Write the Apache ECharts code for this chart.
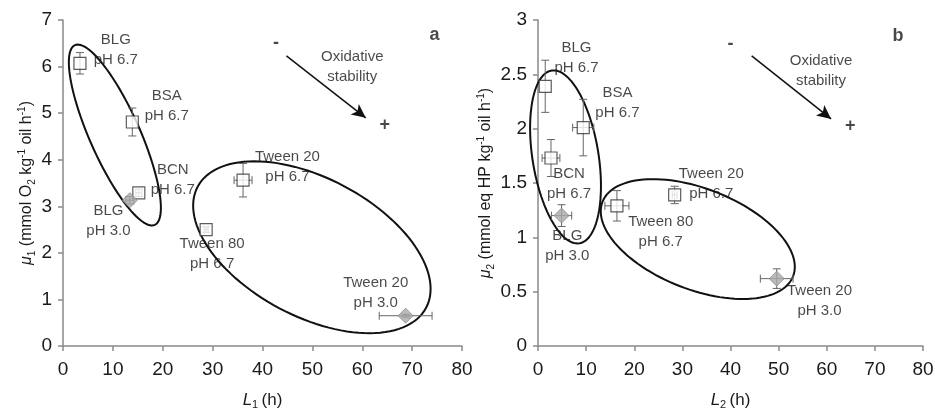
<!DOCTYPE html>
<html>
<head>
<meta charset="utf-8" />
<title>oxidative stability</title>
<style>
  html, body { margin: 0; padding: 0; background: #ffffff; }
  #chart { width: 935px; height: 411px; }
</style>
</head>
<body>
<div id="chart"></div>
<script src="https://cdn.jsdelivr.net/npm/echarts@6/dist/echarts.min.js"></script>
<script>
var names = ['BLG pH 6.7', 'BSA pH 6.7', 'BCN pH 6.7', 'Tween 20 pH 6.7', 'Tween 80 pH 6.7', 'BLG pH 3.0', 'Tween 20 pH 3.0'];
var isAcid = [false, false, false, false, false, true, true];

// panel a : L1 (h) vs mu1
var L1 = [3.4, 13.9, 15.2, 36.1, 28.7, 13.4, 68.7];
var mu1 = [6.07, 4.81, 3.29, 3.56, 2.50, 3.13, 0.65];
var L1Err = [0, 0, 0.6, 1.8, 0.4, 0.8, 5.3];
var mu1Err = [0.23, 0.30, 0.08, 0.36, 0.06, 0.08, 0.03];

// panel b : L2 (h) vs mu2
var L2 = [1.5, 9.4, 2.7, 28.4, 16.4, 4.9, 49.6];
var mu2 = [2.39, 2.01, 1.73, 1.39, 1.29, 1.20, 0.62];
var L2Err = [0, 2.2, 1.85, 0.5, 2.5, 2.1, 3.4];
var mu2Err = [0.24, 0.26, 0.17, 0.08, 0.14, 0.10, 0.09];

// ellipses: centre, end of long half axis, end of short half axis (data units)
var ellipsesA = [[10.4, 4.53, 2.4, 6.46, 15.0, 4.75], [49.9, 2.12, 72.8, 0.82, 56.4, 3.43]];
var ellipsesB = [[5.72, 1.74, 8.59, 0.945, 12.5, 1.787], [33.2, 0.984, 53.0, 0.641, 37.0, 1.416]];

// text labels [x, y, text]
var labelsA = [
  [10.6, 6.35, 'BLG\npH 6.7'], [20.8, 5.15, 'BSA\npH 6.7'], [22.0, 3.57, 'BCN\npH 6.7'],
  [9.1, 2.69, 'BLG\npH 3.0'], [45.0, 3.85, 'Tween 20\npH 6.7'], [29.9, 1.97, 'Tween 80\npH 6.7'],
  [62.7, 1.14, 'Tween 20\npH 3.0'], [58.0, 6.0, 'Oxidative\nstability']
];
var labelsB = [
  [8.0, 2.655, 'BLG\npH 6.7'], [16.5, 2.235, 'BSA\npH 6.7'], [6.45, 1.495, 'BCN\npH 6.7'],
  [6.1, 0.925, 'BLG\npH 3.0'], [36.0, 1.495, 'Tween 20\npH 6.7'], [25.5, 1.05, 'Tween 80\npH 6.7'],
  [58.5, 0.42, 'Tween 20\npH 3.0'], [58.8, 2.535, 'Oxidative\nstability']
];
var signsA = [[42.7, 6.5, '-'], [64.5, 4.74, '+'], [74.5, 6.67, 'a']];
var signsB = [[40.0, 2.78, '-'], [64.9, 2.02, '+'], [74.8, 2.85, 'b']];
var arrowA = [[44.8, 6.23], [60.7, 4.9]];
var arrowB = [[44.4, 2.67], [60.9, 2.09]];

var xTicks = { min: 0, max: 80, interval: 10 };
var yTicksA = { min: 0, max: 7, interval: 1 };
var yTicksB = { min: 0, max: 3, interval: 0.5 };

var _font = 'Liberation Sans, Arial, sans-serif';
var _txt = '#1a1a1a';
var _axis = '#8a8a8a';

function renderEllipse(params, api) {
  var c = api.coord([api.value(0), api.value(1)]);
  var p = api.coord([api.value(2), api.value(3)]);
  var q = api.coord([api.value(4), api.value(5)]);
  var ux = p[0] - c[0], uy = p[1] - c[1];
  var vx = q[0] - c[0], vy = q[1] - c[1];
  var pts = [];
  for (var k = 0; k < 120; k++) {
    var t = k / 120 * Math.PI * 2;
    pts.push([c[0] + ux * Math.cos(t) + vx * Math.sin(t), c[1] + uy * Math.cos(t) + vy * Math.sin(t)]);
  }
  return {
    type: 'polygon',
    shape: { points: pts },
    style: { fill: 'none', stroke: '#111111', lineWidth: 2 }
  };
}

function renderErr(params, api) {
  var x = api.value(0), y = api.value(1), ex = api.value(2), ey = api.value(3);
  var cap = 4;
  var st = { stroke: '#666666', lineWidth: 1 };
  var ch = [];
  function seg(x1, y1, x2, y2) {
    ch.push({ type: 'line', shape: { x1: x1, y1: y1, x2: x2, y2: y2 }, style: st });
  }
  if (ey > 0) {
    var a = api.coord([x, y + ey]), b = api.coord([x, y - ey]);
    seg(a[0], a[1], b[0], b[1]);
    seg(a[0] - cap, a[1], a[0] + cap, a[1]);
    seg(b[0] - cap, b[1], b[0] + cap, b[1]);
  }
  if (ex > 0) {
    var l = api.coord([x - ex, y]), r = api.coord([x + ex, y]);
    seg(l[0], l[1], r[0], r[1]);
    seg(l[0], l[1] - cap, l[0], l[1] + cap);
    seg(r[0], r[1] - cap, r[0], r[1] + cap);
  }
  return { type: 'group', children: ch };
}

function makeSeries(idx, xs, ys, xe, ye, ellipses, labels, signs, arrow) {
  var errData = [], ptData = [];
  for (var i = 0; i < xs.length; i++) {
    errData.push([xs[i], ys[i], xe[i], ye[i]]);
    ptData.push({
      name: names[i],
      value: [xs[i], ys[i]],
      symbol: isAcid[i] ? 'diamond' : 'rect',
      symbolSize: isAcid[i] ? 15 : 12,
      itemStyle: isAcid[i]
        ? { color: '#a9a9a9', borderColor: '#8c8c8c', borderWidth: 1 }
        : { color: '#ffffff', borderColor: '#333333', borderWidth: 1.2 }
    });
  }
  var lblData = labels.map(function (d) { return { name: d[2], value: [d[0], d[1]] }; });
  var signData = signs.map(function (d) { return { name: d[2], value: [d[0], d[1]] }; });
  return [{
    type: 'custom',
    xAxisIndex: idx, yAxisIndex: idx,
    renderItem: renderEllipse,
    encode: { x: 0, y: 1 },
    data: ellipses,
    z: 2
  }, {
    type: 'custom',
    xAxisIndex: idx, yAxisIndex: idx,
    renderItem: renderErr,
    encode: { x: 0, y: 1 },
    data: errData,
    z: 3
  }, {
    type: 'scatter',
    xAxisIndex: idx, yAxisIndex: idx,
    data: ptData,
    z: 4
  }, {
    type: 'scatter',
    xAxisIndex: idx, yAxisIndex: idx,
    symbolSize: 0,
    data: lblData,
    z: 5,
    label: {
      show: true, position: 'inside', formatter: '{b}',
      color: _txt, fontSize: 15, lineHeight: 20, fontFamily: _font, align: 'center'
    },
    markLine: {
      silent: true,
      symbol: ['none', 'arrow'],
      symbolSize: [10, 14],
      label: { show: false },
      lineStyle: { color: '#111111', width: 1.5, type: 'solid' },
      data: [[{ coord: arrow[0] }, { coord: arrow[1] }]]
    }
  }, {
    type: 'scatter',
    xAxisIndex: idx, yAxisIndex: idx,
    symbolSize: 0,
    data: signData,
    z: 5,
    label: {
      show: true, position: 'inside', formatter: '{b}',
      color: _txt, fontSize: 18, fontWeight: 'bold', fontFamily: _font
    }
  }];
}

function xAxis(idx, sub) {
  return {
    type: 'value', gridIndex: idx,
    min: xTicks.min, max: xTicks.max, interval: xTicks.interval,
    name: '{i|L}{s|' + sub + '} {n|(h)}',
    nameLocation: 'middle', nameGap: 44, nameMoveOverlap: false,
    nameTextStyle: {
      rich: {
        i: { fontSize: 17, fontStyle: 'italic', color: _txt, fontFamily: _font, lineHeight: 20 },
        s: { fontSize: 11, color: _txt, fontFamily: _font, verticalAlign: 'bottom', lineHeight: 20 },
        n: { fontSize: 17, color: _txt, fontFamily: _font, lineHeight: 20 }
      }
    },
    axisLine: { show: true, lineStyle: { color: _axis, width: 1.5 } },
    axisTick: { show: true, inside: false, length: 5, lineStyle: { color: _axis, width: 1.5 } },
    axisLabel: { color: _txt, fontSize: 19, fontFamily: _font, margin: 14 },
    splitLine: { show: false }
  };
}

function yAxis(idx, ticks, name, gap) {
  return {
    type: 'value', gridIndex: idx,
    min: ticks.min, max: ticks.max, interval: ticks.interval,
    name: name,
    nameLocation: 'middle', nameGap: gap, nameRotate: 90, nameMoveOverlap: false,
    nameTextStyle: {
      rich: {
        i: { fontSize: 16, fontStyle: 'italic', color: _txt, fontFamily: _font, lineHeight: 20 },
        s: { fontSize: 10, color: _txt, fontFamily: _font, verticalAlign: 'bottom', lineHeight: 20 },
        u: { fontSize: 10, color: _txt, fontFamily: _font, verticalAlign: 'top', lineHeight: 20 },
        n: { fontSize: 16, color: _txt, fontFamily: _font, lineHeight: 20 }
      }
    },
    axisLine: { show: true, lineStyle: { color: _axis, width: 1.5 } },
    axisTick: { show: true, inside: false, length: 5, lineStyle: { color: _axis, width: 1.5 } },
    axisLabel: { color: _txt, fontSize: 19, fontFamily: _font, margin: 11 },
    splitLine: { show: false }
  };
}

var myChart = echarts.init(document.getElementById('chart'));
var option = {
  animation: false,
  backgroundColor: '#ffffff',
  textStyle: { fontFamily: _font },
  grid: [
    { left: 63, top: 20, width: 399, height: 326, outerBoundsMode: 'none', containLabel: false },
    { left: 538, top: 20, width: 385, height: 326, outerBoundsMode: 'none', containLabel: false }
  ],
  xAxis: [xAxis(0, '1'), xAxis(1, '2')],
  yAxis: [
    yAxis(0, yTicksA, '{i|μ}{s|1}{n| (mmol O}{s|2}{n| kg}{u|-1}{n| oil h}{u|-1}{n|)}', 26),
    yAxis(1, yTicksB, '{i|μ}{s|2}{n| (mmol eq HP kg}{u|-1}{n| oil h}{u|-1}{n|)}', 42)
  ],
  series: [].concat(
    makeSeries(0, L1, mu1, L1Err, mu1Err, ellipsesA, labelsA, signsA, arrowA),
    makeSeries(1, L2, mu2, L2Err, mu2Err, ellipsesB, labelsB, signsB, arrowB)
  )
};
myChart.setOption(option);
</script>
</body>
</html>
